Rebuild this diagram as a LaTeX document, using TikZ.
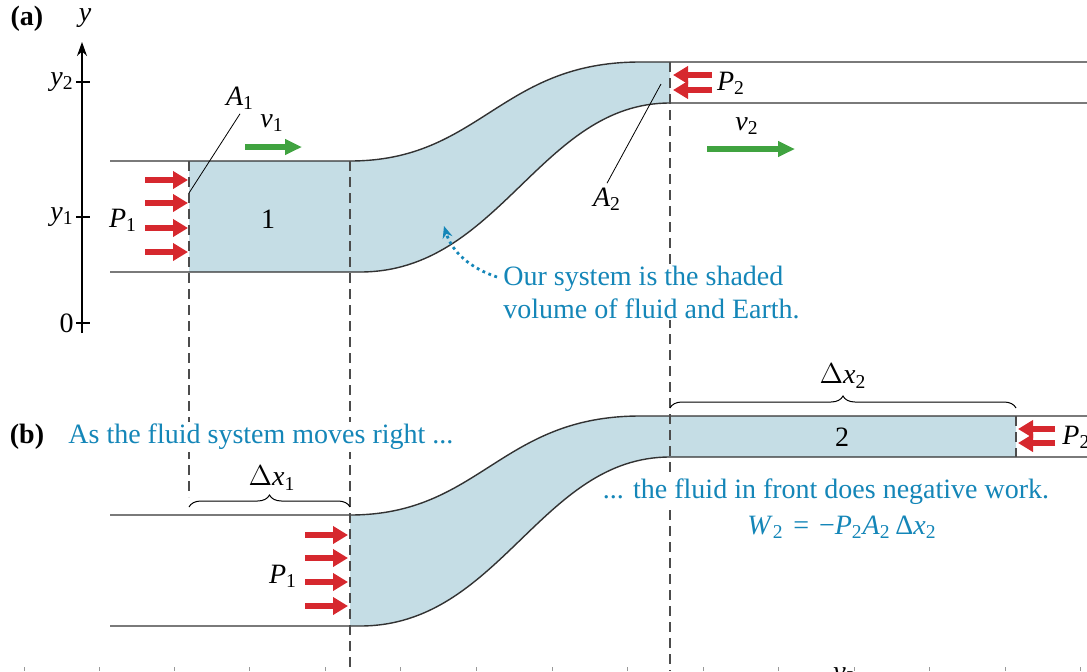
\documentclass[tikz,border=0pt]{standalone}
\usepackage{fontspec}
\setmainfont{Liberation Serif}
\usepackage{tikz}
\usetikzlibrary{arrows.meta, decorations.pathreplacing, positioning}
\definecolor{wallgray}{RGB}{50,50,50}
\definecolor{fluidblue}{RGB}{197,221,229}
\definecolor{pushred}{RGB}{214,40,46}
\definecolor{flowgreen}{RGB}{64,163,64}
\definecolor{notecyan}{RGB}{20,134,184}
\newcommand{\lbl}[2]{\textit{#1}\textsubscript{#2}}

\begin{document}
\begin{tikzpicture}[
    x=0.5pt, y=-0.5pt,
    every node/.style={font=\fontsize{14}{16.5}\selectfont, inner sep=2pt},
    panel/.style={font=\fontsize{14}{16.5}\selectfont\bfseries},
    wall/.style={draw=wallgray, line width=0.7pt},
    fluid/.style={fill=fluidblue},
    guide/.style={draw=black!70, line width=0.55pt, dash pattern=on 5pt off 3pt},
    push/.style={draw=pushred, line width=3.2pt, -{Triangle[length=7.5pt, width=8.5pt]}},
    flow/.style={draw=flowgreen, line width=3pt, -{Triangle[length=8.5pt, width=7.5pt]}},
    leader/.style={draw=black, line width=0.4pt},
    bracket/.style={draw=black, line width=0.5pt, decorate, decoration={brace, amplitude=6pt}},
    note/.style={text=notecyan, fill=white, align=left, inner sep=1pt},
    pointer/.style={draw=notecyan, line width=1.4pt, dash pattern=on 1.4pt off 1.8pt, -{Stealth[length=6pt, width=5pt]}},
    axistick/.style={draw=black, line width=0.6pt},
    remnant/.style={draw=black!40, line width=0.4pt}
]
    \useasboundingbox (0,0) rectangle (1087,671);

    % Fluid system (a)
    \fill[fluid] (189,161) -- (350,161) .. controls (480,161) and (500,62) .. (640,62) -- (670,62)
        -- (670,103) .. controls (540,103) and (500,272) .. (360,272) -- (189,272) -- cycle;

    % Fluid system (b)
    \fill[fluid] (350,515) .. controls (480,515) and (500,416) .. (640,416) -- (1016,416)
        -- (1016,457) -- (670,457) .. controls (540,457) and (500,626) .. (360,626) -- (350,626) -- cycle;

    % Pipe walls
    \draw[wall] (110,161) -- (350,161) .. controls (480,161) and (500,62) .. (640,62) -- (1087,62);
    \draw[wall] (110,272) -- (360,272) .. controls (500,272) and (540,103) .. (670,103) -- (1087,103);
    \draw[wall] (110,515) -- (350,515) .. controls (480,515) and (500,416) .. (640,416) -- (1087,416);
    \draw[wall] (110,626) -- (360,626) .. controls (500,626) and (540,457) .. (670,457) -- (1087,457);

    % Dashed guides
    \draw[guide] (189,161) -- (189,497);
    \draw[guide] (350,161) -- (350,671);
    \draw[guide] (670,62) -- (670,671);
    \draw[guide] (1016,416) -- (1016,457);

    % Height axis
    \draw[line width=0.6pt, -{Stealth[length=7pt, width=5pt]}] (82,333) -- (82,42);
    \draw[axistick] (76,82) -- (90,82);
    \draw[axistick] (76,217) -- (90,217);
    \draw[axistick] (76,323) -- (90,323);
    \node[anchor=east] (y2) at (78,82) {\lbl{y}{2}};
    \node[anchor=east] (y1) at (78,217) {\lbl{y}{1}};
    \node[anchor=east] (y0) at (78,323) {0};
    \node (ylabel) at (85,18) {\textit{y}};
    \node[panel] (pa) at (27,19) {(a)};

    % Panel (a) labels
    \node (P1a) at (123,220) {\lbl{P}{1}};
    \node (one) at (268,219) {1};
    \node (A1) at (240,98) {\lbl{A}{1}};
    \coordinate (A1end) at (189,193);
    \draw[leader] (A1.south) -- (A1end);
    \node (v1) at (272,123) {\textit{v}\textsubscript{1}};
    \node (P2a) at (731,83) {\lbl{P}{2}};
    \node (A2) at (607,199) {\lbl{A}{2}};
    \coordinate (A2end) at (661,84);
    \draw[leader] (A2.north) -- (A2end);
    \node (v2) at (747,126) {\textit{v}\textsubscript{2}};

    % Pressure and flow arrows (a)
    \draw[push] (145,180) -- (188,180);
    \draw[push] (145,203) -- (188,203);
    \draw[push] (145,228) -- (188,228);
    \draw[push] (145,252) -- (188,252);
    \draw[push] (712,75) -- (673,75);
    \draw[push] (712,90) -- (673,90);
    \draw[flow] (245,147) -- (302,147);
    \draw[flow] (707,149) -- (795,149);

    % System note
    \node[note, anchor=west] (sysnote) at (501,292) {Our system is the shaded\\volume of fluid and Earth.};
    \coordinate (ptrstart) at (497,277);
    \coordinate (ptrend) at (444,226);
    \draw[pointer] (ptrstart) .. controls (470,268) and (452,252) .. (ptrend);

    % Panel (b) labels
    \node[panel] (pb) at (27,437) {(b)};
    \node[note, anchor=west] (movenote) at (66,437) {As the fluid system moves right ...};
    \draw[bracket] (189,507) -- (350,507);
    \node (dx1) at (272,478) {$\Delta$\textit{x}\textsubscript{1}};
    \node (P1b) at (283,576) {\lbl{P}{1}};
    \draw[bracket] (670,408) -- (1016,408);
    \node (dx2) at (843,376) {$\Delta$\textit{x}\textsubscript{2}};
    \node (two) at (842,437) {2};
    \node[anchor=west] (P2b) at (1058,437) {\lbl{P}{2}};
    \node[note] (worknote) at (826,492) {... the fluid in front does negative work.};
    \node[note] (workeq) at (842,527) {\lbl{W}{2}\hspace{0.35em}=\hspace{0.35em}−\lbl{P}{2}\lbl{A}{2}\,Δ\lbl{x}{2}};

    % Pressure arrows (b)
    \draw[push] (305,535) -- (348,535);
    \draw[push] (305,558) -- (348,558);
    \draw[push] (305,582) -- (348,582);
    \draw[push] (305,606) -- (348,606);
    \draw[push] (1055,429) -- (1018,429);
    \draw[push] (1055,443) -- (1018,443);

    % Cut edge below
    \draw[remnant] (24,667) -- (24,671) (99,667) -- (99,671) (174,667) -- (174,671) (249,667) -- (249,671)
        (325,667) -- (325,671) (400,667) -- (400,671) (476,667) -- (476,671) (552,667) -- (552,671)
        (627,667) -- (627,671) (703,667) -- (703,671) (778,667) -- (778,671) (854,667) -- (854,671)
        (929,667) -- (929,671) (1005,667) -- (1005,671) (1080,667) -- (1080,671);
    \node (v2cut) at (845,676) {\textit{v}\textsubscript{2}};

\end{tikzpicture}
\end{document}
